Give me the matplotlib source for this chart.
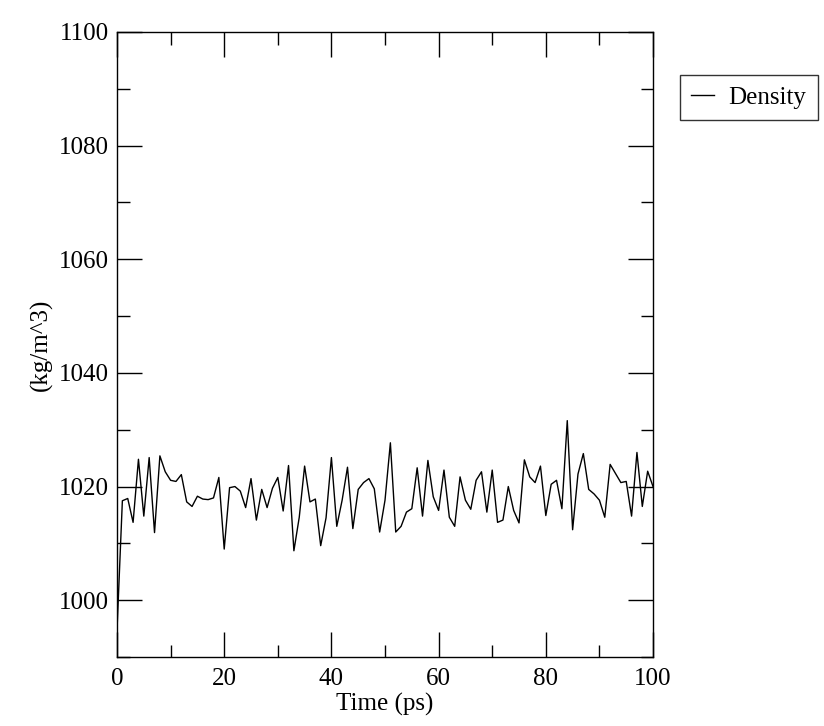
import matplotlib
matplotlib.use("Agg")
from matplotlib import pyplot as plt
from matplotlib.ticker import MultipleLocator

# Density over time, one sample per ps
time_ps = list(range(0, 101))
density = [
    994.7, 1017.5, 1017.9, 1013.7, 1024.8, 1014.8, 1025.1, 1011.9, 1025.4, 1022.6,
    1021.1, 1020.9, 1022.1, 1017.3, 1016.5, 1018.3, 1017.8, 1017.7, 1018.0, 1021.6,
    1009.0, 1019.8, 1020.0, 1019.2, 1016.3, 1021.4, 1014.1, 1019.5, 1016.3, 1019.7,
    1021.6, 1015.7, 1023.7, 1008.7, 1014.6, 1023.6, 1017.3, 1017.8, 1009.6, 1014.5,
    1025.1, 1013.0, 1017.6, 1023.4, 1012.6, 1019.5, 1020.7, 1021.4, 1019.6, 1012.0,
    1017.6, 1027.7, 1012.0, 1013.0, 1015.5, 1016.1, 1023.3, 1014.8, 1024.6, 1018.2,
    1015.8, 1022.9, 1014.6, 1013.0, 1021.7, 1017.6, 1016.0, 1021.1, 1022.6, 1015.5,
    1022.9, 1013.7, 1014.1, 1020.0, 1015.8, 1013.6, 1024.7, 1021.7, 1020.7, 1023.6,
    1014.9, 1020.4, 1021.1, 1016.1, 1031.6, 1012.4, 1022.2, 1025.8, 1019.5, 1018.7,
    1017.6, 1014.6, 1023.9, 1022.3, 1020.7, 1020.9, 1014.8, 1026.0, 1016.5, 1022.7,
    1020.0,
]

plt.rcParams["font.family"] = ["Liberation Serif", "DejaVu Serif"]

fig = plt.figure(figsize=(8.24, 7.26), dpi=100)
ax = fig.add_axes([0.142, 0.095, 0.6505, 0.861])

line, = ax.plot(time_ps, density, color="black", linewidth=1.0, label="Density")

ax.set_xlim(0, 100)
ax.set_ylim(990, 1100)
ax.xaxis.set_major_locator(MultipleLocator(20))
ax.xaxis.set_minor_locator(MultipleLocator(10))
ax.yaxis.set_major_locator(MultipleLocator(20))
ax.yaxis.set_minor_locator(MultipleLocator(10))
ax.tick_params(which="both", direction="in", top=True, right=True,
               labelsize=18, width=1.0, color="black")
ax.tick_params(which="major", length=18)
ax.tick_params(axis="x", which="major", pad=8)
ax.tick_params(axis="y", which="major", pad=6)
ax.tick_params(which="minor", length=9)
for s in ax.spines.values():
    s.set_linewidth(1.0)

ax.set_xlabel("Time (ps)", fontsize=18, labelpad=2)
ax.set_ylabel("(kg/m^3)", fontsize=18, labelpad=4)

leg = fig.legend(handles=[line], loc="upper left", bbox_to_anchor=(0.825, 0.897),
                 fontsize=18, frameon=True, fancybox=False, edgecolor="black",
                 handlelength=0.9, handletextpad=0.6, borderpad=0.45,
                 borderaxespad=0)
leg.get_frame().set_linewidth(1.0)

fig.savefig("out.png", dpi=100)
